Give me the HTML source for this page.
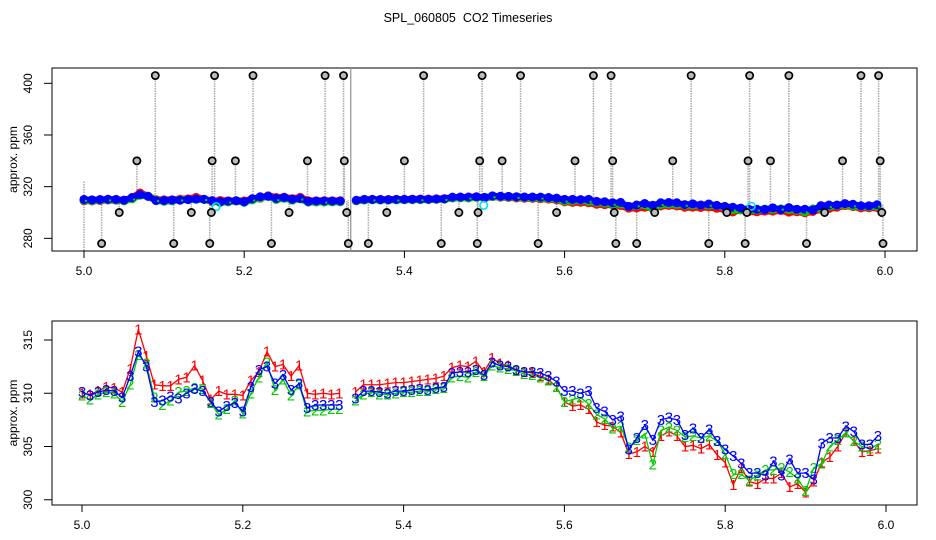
<!DOCTYPE html>
<html><head><meta charset="utf-8">
<style>
html,body{margin:0;padding:0;background:#fff;}
svg{display:block;font-family:"Liberation Sans",Arial,sans-serif;}
</style></head>
<body>
<svg id="chart" width="936" height="540" viewBox="0 0 936 540">
<rect x="0" y="0" width="936" height="540" fill="#fff"/>
<text x="468" y="22" font-size="12.5" text-anchor="middle">SPL_060805&#160; CO2 Timeseries</text>
<g id="topPanel"></g>
<g id="botPanel"></g>
</svg>
<script>
const xs = [5.00,5.01,5.02,5.03,5.04,5.05,5.06,5.07,5.08,5.09,5.10,5.11,5.12,5.13,5.14,5.15,5.16,5.17,5.18,5.19,5.20,5.21,5.22,5.23,5.24,5.25,5.26,5.27,5.28,5.29,5.30,5.31,5.32,5.33,5.34,5.35,5.36,5.37,5.38,5.39,5.40,5.41,5.42,5.43,5.44,5.45,5.46,5.47,5.48,5.49,5.50,5.51,5.52,5.53,5.54,5.55,5.56,5.57,5.58,5.59,5.60,5.61,5.62,5.63,5.64,5.65,5.66,5.67,5.68,5.69,5.70,5.71,5.72,5.73,5.74,5.75,5.76,5.77,5.78,5.79,5.80,5.81,5.82,5.83,5.84,5.85,5.86,5.87,5.88,5.89,5.90,5.91,5.92,5.93,5.94,5.95,5.96,5.97,5.98,5.99];
const sensor3 = [310.1,309.8,310.1,310.3,310.2,309.6,311.6,313.9,312.5,309.2,
309.3,309.7,309.5,310.0,310.4,310.2,309.2,308.3,308.8,309.1,
308.3,310.6,312.2,312.5,310.9,311.7,310.3,310.9,308.6,308.9,
308.9,308.9,308.9,null,309.5,310.2,310.2,310.1,310.0,310.2,
310.2,310.3,310.4,310.3,310.5,310.6,311.9,312.0,312.0,312.2,
311.7,312.9,312.6,312.5,312.2,312.0,312.0,311.9,311.6,311.1,
310.2,310.2,310.0,310.2,308.6,308.3,307.5,307.8,304.7,305.8,
307.0,305.6,307.5,307.7,307.5,306.1,306.7,305.8,306.6,305.5,
304.7,304.1,303.4,302.5,302.5,302.3,303.6,302.3,303.8,302.5,
302.5,301.9,305.3,305.8,305.8,306.9,306.4,305.2,305.2,306.0];
const sensor1 = [310.0,309.9,310.2,310.6,310.5,310.1,312.3,316.0,313.5,310.8,
310.7,310.7,311.3,311.5,312.6,311.2,309.4,310.2,309.9,309.9,
309.8,311.2,312.0,313.9,312.5,312.7,311.6,312.6,310.0,309.9,
310.0,309.9,310.0,null,310.1,310.8,310.8,310.8,310.9,311.0,
311.0,311.1,311.2,311.3,311.4,311.6,312.4,312.6,312.5,313.0,
312.0,313.3,312.8,312.6,312.2,312.0,311.9,311.6,311.3,310.6,
309.2,308.8,308.9,308.5,307.3,307.0,306.9,306.3,304.3,304.5,
305.0,304.5,306.0,306.4,306.0,305.0,305.1,304.8,305.2,304.2,
303.5,301.4,303.0,301.7,301.5,302.0,302.0,302.5,301.2,301.5,
300.7,301.7,303.5,304.0,305.0,306.3,305.5,304.5,304.6,304.8];
const sensor2 = [309.8,309.4,309.9,310.1,310.0,309.2,310.8,313.6,312.8,309.6,
308.9,309.3,310.1,310.2,310.5,310.4,309.1,308.0,308.5,309.3,
308.1,310.0,311.5,312.9,310.3,311.3,309.8,310.8,308.3,308.4,
308.4,308.5,308.5,null,309.3,309.9,310.1,309.9,309.9,310.0,
310.1,310.1,310.2,310.2,310.4,310.5,311.5,311.6,311.5,312.0,
311.6,312.6,312.4,312.3,312.1,311.8,311.7,311.5,311.2,310.6,
309.2,309.4,309.6,309.0,308.0,307.6,306.7,306.9,304.9,305.6,
306.2,303.3,306.5,306.8,306.5,305.9,306.0,305.8,306.0,305.5,
304.3,302.4,302.4,301.8,302.3,302.8,302.8,303.0,302.6,302.0,
300.8,303.0,303.4,305.0,305.6,306.3,305.5,305.0,304.8,305.2];
const outlierX = [5.089,5.163,5.211,5.301,5.324,5.424,5.497,5.545,5.636,5.658,5.758,5.831,5.880,5.970,5.992,
5.066,5.160,5.189,5.279,5.325,5.400,5.494,5.522,5.613,5.660,5.735,5.829,5.857,5.947,5.994,
5.044,5.134,5.159,5.256,5.328,5.378,5.468,5.492,5.590,5.662,5.7125,5.8025,5.8275,5.9246,5.996,
5.022,5.112,5.157,5.234,5.330,5.355,5.446,5.491,5.567,5.664,5.690,5.780,5.8254,5.902,5.9975];
const outlierY = [406,406,406,406,406,406,406,406,406,406,406,406,406,406,406,
340,340,340,340,340,340,340,340,340,340,340,340,340,340,340,
300,300,300,300,300,300,300,300,300,300,300,300,300,300,300,
276,276,276,276,276,276,276,276,276,276,276,276,276,276,276];
const cyanX = [5.165,5.499,5.833];
const cyanY = [304.5,305.5,304.8];
const xTicks = [5.0,5.2,5.4,5.6,5.8,6.0];
const xTickLabels = ["5.0","5.2","5.4","5.6","5.8","6.0"];
const topYTicks = [280,320,360,400];
const botYTicks = [300,305,310,315];

const NS="http://www.w3.org/2000/svg";
function mk(parent,tag,attrs){const e=document.createElementNS(NS,tag);for(const k in attrs)e.setAttribute(k,attrs[k]);parent.appendChild(e);return e;}

const tX = v => 84 + (v-5.0)*801;
const tY = v => 83.3 + (400-v)*1.292;
const bX = v => 82 + (v-5.0)*804;
const bY = v => 340 + (315-v)*10.65;

function frame(g,y0,y1,xf,yf,yticks,name){
  const box=mk(g,'rect',{x:52,y:y0,width:865,height:y1-y0,fill:'none',stroke:'#000','stroke-width':1});
  
  
  xTicks.forEach((t,i)=>{
    const l=mk(g,'line',{x1:xf(t),x2:xf(t),y1:y1,y2:y1+7,stroke:'#000'});
    
    
    const tx=mk(g,'text',{x:xf(t),y:y1+24,'font-size':12,'text-anchor':'middle'});
    tx.textContent=xTickLabels[i];
    
    
  });
  yticks.forEach(t=>{
    const y=yf(t);
    const l=mk(g,'line',{x1:44,x2:52,y1:y,y2:y,stroke:'#000'});
    
    
    const tx=mk(g,'text',{x:0,y:0,'font-size':12,'text-anchor':'middle',transform:`translate(32,${y}) rotate(-90)`});
    tx.textContent=String(t);
    
    
  });
  const yl=mk(g,'text',{x:0,y:0,'font-size':12,'text-anchor':'middle',transform:`translate(17,${(y0+y1)/2}) rotate(-90)`});
  yl.textContent='approx. ppm';
  
  
}

// ---- TOP PANEL ----
const topG=document.getElementById('topPanel');
frame(topG,68,251,tX,tY,topYTicks,'top');
const clipT=mk(topG,'clipPath',{id:'ct'});mk(clipT,'rect',{x:52,y:68,width:865,height:183});
const tg=mk(topG,'g',{'clip-path':'url(#ct)'});
[5.333].forEach(v=>{const l=mk(tg,'line',{x1:tX(v),x2:tX(v),y1:68,y2:251,stroke:'#999','stroke-width':1.3});
  
  });
const l0=mk(tg,'line',{x1:tX(5.0),x2:tX(5.0),y1:tY(324),y2:251,stroke:'#aaa','stroke-width':1.5,'stroke-dasharray':'1.5 1'});


function nearest(v){let i=Math.round((v-5.0)/0.01);i=Math.max(0,Math.min(xs.length-1,i));let y=sensor3[i];if(y===null)y=sensor3[i+1];return y;}
outlierX.forEach((v,i)=>{
  const s=mk(tg,'line',{x1:tX(v),x2:tX(v),y1:tY(outlierY[i]),y2:tY(nearest(v)),stroke:'#aaa','stroke-width':1.5,'stroke-dasharray':'1.5 1'});
  
  
});
function segs(arr){const out=[];let cur=[];arr.forEach((v,i)=>{if(v===null){if(cur.length)out.push(cur);cur=[];}else cur.push(i);});if(cur.length)out.push(cur);return out;}
[[sensor1,'#ff0000',1.2,7],[sensor2,'#00cc00',0.3,7],[sensor3,'#0000ff',0,6]].forEach(([arr,col,off,w])=>{
  segs(arr).forEach(sg=>{
    const p=mk(tg,'polyline',{points:sg.map(i=>tX(xs[i])+','+(tY(arr[i])+off)).join(' '),fill:'none',stroke:col,'stroke-width':w,'stroke-linejoin':'round','stroke-linecap':'round'});
    
    
  });
  arr.forEach((v,i)=>{ if(v===null) return;
    const c=mk(tg,'circle',{cx:tX(xs[i]),cy:tY(v)+off,r:3.6,fill:'none',stroke:col,'stroke-width':1.8});
    
    
  });
});
sensor2.forEach((v,i)=>{ if(v===null||i%3) return;
  const c=mk(tg,'circle',{cx:tX(xs[i])+2,cy:tY(v)+1,r:1.2,fill:'#00cc00'});
  
  
});
cyanX.forEach((v,i)=>{const c=mk(tg,'circle',{cx:tX(v),cy:tY(cyanY[i]),r:3.8,fill:'none',stroke:'#00e5ee','stroke-width':1.6});
  
  });
outlierX.forEach((v,i)=>{
  const c=mk(tg,'circle',{cx:tX(v),cy:tY(outlierY[i]),r:3.6,fill:'#bbb',stroke:'#000','stroke-width':1.7});
  
  
});

// ---- BOTTOM PANEL ----
const botG=document.getElementById('botPanel');
frame(botG,321,505,bX,bY,botYTicks,'bottom');
const clipB=mk(botG,'clipPath',{id:'cb'});mk(clipB,'rect',{x:52,y:321,width:865,height:184});
const bg=mk(botG,'g',{'clip-path':'url(#cb)'});
[[sensor1,'#ff0000','1'],[sensor2,'#00cc00','2'],[sensor3,'#0000ff','3']].forEach(([arr,col,ch])=>{
  segs(arr).forEach(sg=>{
    const p=mk(bg,'polyline',{points:sg.map(i=>bX(xs[i])+','+bY(arr[i])).join(' '),fill:'none',stroke:col,'stroke-width':1.3});
    
    
  });
  arr.forEach((v,i)=>{ if(v===null) return;
    const t=mk(bg,'text',{x:bX(xs[i]),y:bY(v)+5,'font-size':15,'text-anchor':'middle',fill:col});
    t.textContent=ch;
    
    
  });
});
</script>
</body></html>
